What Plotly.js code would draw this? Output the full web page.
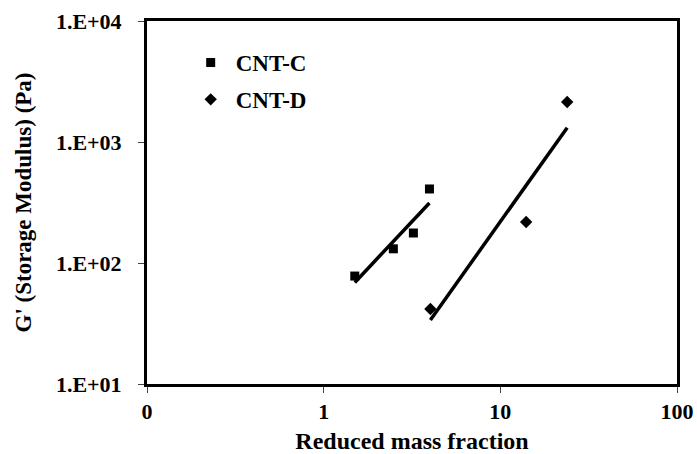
<!DOCTYPE html>
<html>
<head>
<meta charset="utf-8">
<script src="https://cdn.plot.ly/plotly-3.0.1.min.js"></script>
<style>
  html, body { margin: 0; padding: 0; background: #fff; }
  #chart { width: 697px; height: 454px; }
</style>
</head>
<body>
<div id="chart"></div>
<script>
// Storage modulus G' against reduced mass fraction (log-log), two CNT grades
const cntC_x = [1.50, 2.48, 3.22, 3.97];
const cntC_y = [78, 131, 177, 409];
const cntD_x = [4.02, 14.0, 23.9];
const cntD_y = [41.7, 218, 2140];

const xTickVals = [0.1, 1, 10, 100];
const xTickText = ['0', '1', '10', '100'];
const yTickVals = [10, 100, 1000, 10000];
const yTickText = ['1.E+01', '1.E+02', '1.E+03', '1.E+04'];

// Power-law trendline: least squares on log10(x), log10(y)
function powerFit(xs, ys) {
  const lx = xs.map(Math.log10), ly = ys.map(Math.log10);
  const n = lx.length;
  const mx = lx.reduce((a, b) => a + b, 0) / n;
  const my = ly.reduce((a, b) => a + b, 0) / n;
  let sxy = 0, sxx = 0;
  for (let i = 0; i < n; i++) { sxy += (lx[i] - mx) * (ly[i] - my); sxx += (lx[i] - mx) ** 2; }
  const b = sxy / sxx, a = my - b * mx;
  const x0 = Math.min(...xs), x1 = Math.max(...xs);
  return { x: [x0, x1], y: [x0, x1].map(v => Math.pow(10, a + b * Math.log10(v))) };
}

const fitC = powerFit(cntC_x, cntC_y);
const fitD = powerFit(cntD_x, cntD_y);

const serif = '"Liberation Serif", "Times New Roman", serif';

const traces = [
  { x: fitC.x, y: fitC.y, mode: 'lines', line: { color: '#000', width: 3.5 }, showlegend: false, hoverinfo: 'skip' },
  { x: fitD.x, y: fitD.y, mode: 'lines', line: { color: '#000', width: 3.5 }, showlegend: false, hoverinfo: 'skip' },
  { x: cntC_x, y: cntC_y, name: 'CNT-C', mode: 'markers', legendgroup: 'c',
    marker: { symbol: 'square', size: 9, color: '#000' } },
  { x: cntD_x, y: cntD_y, name: 'CNT-D', mode: 'markers', legendgroup: 'd',
    marker: { symbol: 'diamond', size: 9.5, color: '#000' } }
];

const axisCommon = {
  type: 'log',
  showgrid: false,
  zeroline: false,
  showline: true,
  linecolor: '#000',
  linewidth: 3,
  mirror: true,
  ticks: 'outside',
  ticklen: 6,
  tickwidth: 1,
  tickcolor: '#444',
  tickfont: { family: serif, size: 22, color: '#000', weight: 'bold' }
};

const layout = {
  width: 697,
  height: 454,
  margin: { l: 147, r: 20, t: 21, b: 70 },
  paper_bgcolor: '#fff',
  plot_bgcolor: '#fff',
  font: { family: serif, color: '#000' },
  showlegend: true,
  legend: {
    x: 0.073, y: 0.945, xanchor: 'left', yanchor: 'top',
    bgcolor: 'rgba(0,0,0,0)',
    font: { family: serif, size: 23, color: '#000', weight: 'bold' },
    itemwidth: 40,
    tracegroupgap: 4,
    traceorder: 'grouped'
  },
  xaxis: Object.assign({}, axisCommon, {
    range: [-1, 2],
    tickvals: xTickVals,
    ticktext: xTickText,
    ticklabelstandoff: 0,
    title: { text: 'Reduced mass fraction', standoff: 14,
             font: { family: serif, size: 24, color: '#000', weight: 'bold' } }
  }),
  yaxis: Object.assign({}, axisCommon, {
    range: [1, 4],
    tickvals: yTickVals,
    ticktext: yTickText,
    ticklabelstandoff: 12,
    title: { text: "G' (Storage Modulus) (Pa)", standoff: 18,
             font: { family: serif, size: 23, color: '#000', weight: 'bold' } }
  })
};

Plotly.newPlot('chart', traces, layout, { displayModeBar: false, staticPlot: true });
</script>
</body>
</html>
